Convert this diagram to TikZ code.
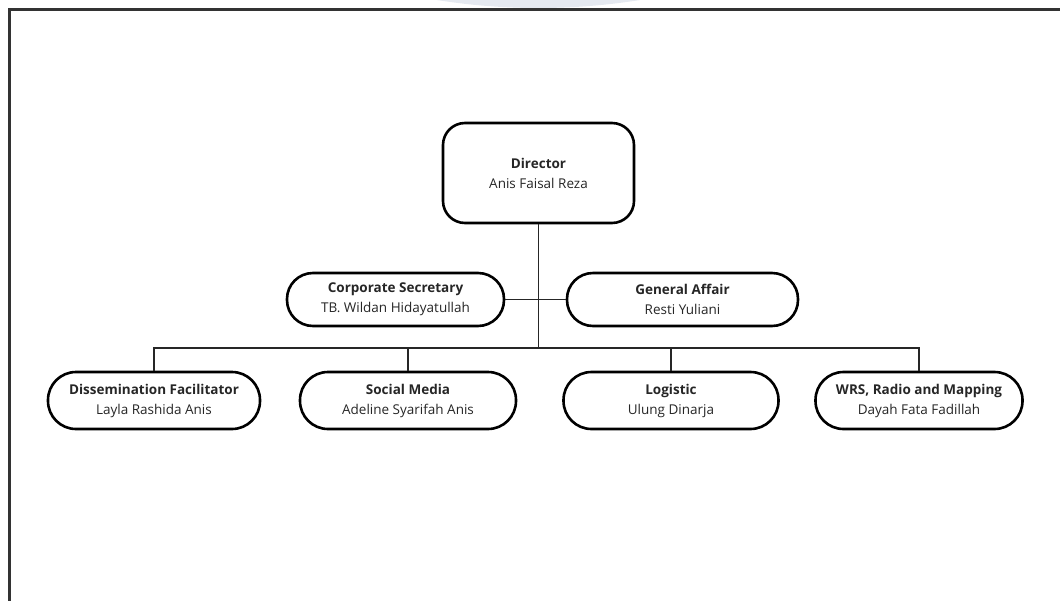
\documentclass[tikz,border=0pt]{standalone}
\usepackage{fontspec}
\setmainfont{Open Sans}
\begin{document}
\begin{tikzpicture}[x=1pt,y=-1pt,
  box/.style={draw=black, line width=2.6pt, rectangle, inner sep=0pt, align=center,
    font=\fontsize{13.5}{20}\selectfont, text=black!85},
  conn/.style={draw=black!85, line width=1.4pt},
  frame/.style={draw=black!80, line width=2.2pt}]
\useasboundingbox (0,0) rectangle (1060,600);
\clip (0,0) rectangle (1060,600);
% faint watermark
\fill[fill={rgb,255:red,229;green,233;blue,240}] (538.5,-634) circle (642);
% frame
\draw[frame] (9.5,620) -- (9.5,9.5) -- (1080,9.5);
% boxes
\node[box, minimum width=191pt, minimum height=100pt, rounded corners=22pt] (dir) at (538.5,173)
  {\textbf{Director}\\Anis Faisal Reza};
\node[box, minimum width=217pt, minimum height=53pt, rounded corners=26pt] (cs) at (395.5,299.5)
  {\textbf{Corporate Secretary}\\TB. Wildan Hidayatullah};
\node[box, minimum width=231pt, minimum height=53pt, rounded corners=26pt] (ga) at (682.5,299.5)
  {\textbf{General Affair}\\Resti Yuliani};
\node[box, minimum width=212pt, minimum height=57pt, rounded corners=28pt] (diss) at (154,400.5)
  {\textbf{Dissemination Facilitator}\\Layla Rashida Anis};
\node[box, minimum width=216pt, minimum height=57pt, rounded corners=28pt] (soc) at (408,400.5)
  {\textbf{Social Media}\\Adeline Syarifah Anis};
\node[box, minimum width=215pt, minimum height=57pt, rounded corners=28pt] (log) at (671,400.5)
  {\textbf{Logistic}\\Ulung Dinarja};
\node[box, minimum width=207pt, minimum height=57pt, rounded corners=28pt] (wrs) at (919,400.5)
  {\textbf{WRS, Radio and Mapping}\\Dayah Fata Fadillah};
% connectors
\coordinate (bus) at (538.5,348);
\draw[conn] (dir.south) -- (bus);
\draw[conn] (cs.east) -- (ga.west);
\draw[conn] (bus) -| (diss.north);
\draw[conn] (bus) -| (soc.north);
\draw[conn] (bus) -| (log.north);
\draw[conn] (bus) -| (wrs.north);
\end{tikzpicture}
\end{document}
